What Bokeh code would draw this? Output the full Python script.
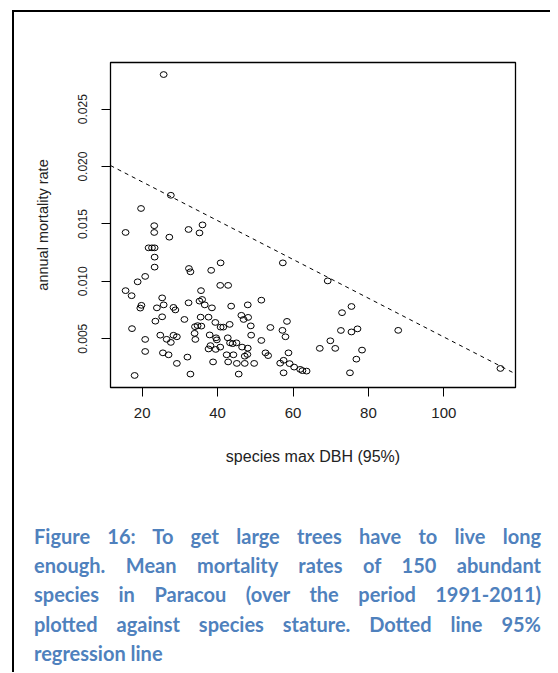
import numpy as np
from bokeh.plotting import figure
from bokeh.models import Range1d, FixedTicker, Div, ColumnDataSource, PrintfTickFormatter
from bokeh.layouts import column, row
from bokeh.embed import file_html
from bokeh.resources import INLINE

# species max DBH (95%), cm
dbh = [27.6, 19.7, 15.6, 23.2, 23.2, 27.2, 32.3, 35.2, 36.0, 21.7,
       22.6, 23.3, 23.3, 23.3, 20.8, 18.8, 32.4, 32.8, 38.3, 40.8,
       40.7, 42.8, 57.3, 69.2, 15.6, 17.2, 19.8, 19.5, 25.3, 25.7,
       23.9, 28.3, 28.8, 32.3, 35.6, 35.2, 35.9, 36.6, 38.5, 43.6,
       48.0, 51.6, 25.3, 23.5, 31.2, 35.5, 37.6, 39.4, 40.8, 41.5,
       43.2, 46.3, 48.1, 46.9, 48.8, 54.0, 57.2, 58.4, 58.0, 17.3,
       34.0, 34.7, 35.7, 33.9, 34.1, 37.9, 39.6, 39.8, 20.8, 24.8,
       26.5, 27.6, 28.3, 29.2, 48.9, 42.7, 43.3, 44.0, 45.0, 46.5,
       48.0, 51.6, 38.1, 37.6, 39.5, 40.7, 20.8, 25.5, 27.0, 32.0,
       42.4, 44.2, 47.2, 47.9, 52.7, 53.4, 58.8, 29.2, 38.8, 42.8,
       45.1, 47.2, 49.7, 56.6, 57.5, 59.1, 60.3, 61.9, 62.5, 63.6,
       57.5, 18.0, 32.8, 45.6, 67.1, 69.9, 71.2, 73.0, 75.5, 72.7,
       75.5, 77.1, 78.3, 76.8, 75.1, 87.9, 115.0, 25.7]

# annual mortality rate
mortality = [0.01750, 0.01635, 0.01426, 0.01485, 0.01426, 0.01385, 0.01452, 0.01422, 0.01492, 0.01292,
             0.01292, 0.01292, 0.01211, 0.01124, 0.01043, 0.00996, 0.01112, 0.01083, 0.01096, 0.01161,
             0.00965, 0.00965, 0.01161, 0.01004, 0.00919, 0.00875, 0.00791, 0.00767, 0.00856, 0.00795,
             0.00769, 0.00773, 0.00751, 0.00813, 0.00919, 0.00828, 0.00842, 0.00795, 0.00769, 0.00784,
             0.00795, 0.00836, 0.00691, 0.00653, 0.00668, 0.00688, 0.00688, 0.00642, 0.00601, 0.00601,
             0.00625, 0.00704, 0.00686, 0.00668, 0.00612, 0.00598, 0.00573, 0.00651, 0.00517, 0.00588,
             0.00605, 0.00614, 0.00610, 0.00547, 0.00494, 0.00533, 0.00508, 0.00490, 0.00494, 0.00531,
             0.00495, 0.00468, 0.00530, 0.00517, 0.00531, 0.00508, 0.00464, 0.00457, 0.00464, 0.00427,
             0.00418, 0.00485, 0.00440, 0.00411, 0.00407, 0.00427, 0.00389, 0.00377, 0.00360, 0.00340,
             0.00360, 0.00360, 0.00348, 0.00363, 0.00377, 0.00353, 0.00377, 0.00285, 0.00298, 0.00298,
             0.00285, 0.00285, 0.00285, 0.00287, 0.00312, 0.00283, 0.00253, 0.00233, 0.00222, 0.00218,
             0.00203, 0.00180, 0.00192, 0.00192, 0.00416, 0.00482, 0.00416, 0.00727, 0.00781, 0.00572,
             0.00559, 0.00586, 0.00401, 0.00322, 0.00203, 0.00573, 0.00241, 0.02802]

# 95% regression line
reg_intercept = 0.02205
reg_slope = -0.000169

x_ticks = [20, 40, 60, 80, 100]
y_ticks = [0.005, 0.010, 0.015, 0.020, 0.025]

x_label = "species max DBH (95%)"
y_label = "annual mortality rate"

caption_lines = [
    "Figure 16: To get large trees have to live long",
    "enough. Mean mortality rates of 150 abundant",
    "species in Paracou (over the period 1991-2011)",
    "plotted against species stature. Dotted line 95%",
    "regression line",
]

x_min, x_max = 11.6, 119.0
y_min, y_max = 0.00075, 0.02907

p = figure(width=536, height=475,
           x_range=Range1d(x_min, x_max), y_range=Range1d(y_min, y_max),
           output_backend="svg", toolbar_location=None,
           min_border_left=96, min_border_top=50, min_border_right=35, min_border_bottom=100)
p.xgrid.visible = False
p.ygrid.visible = False
p.background_fill_color = "white"
p.border_fill_color = "white"
p.outline_line_color = "black"
p.outline_line_width = 1.3

for ax in (p.xaxis, p.yaxis):
    ax.major_tick_in = 0
    ax.major_tick_out = 9
    ax.minor_tick_in = 0
    ax.minor_tick_out = 0
    ax.major_tick_line_color = "black"
    ax.axis_line_color = "black"
    ax.major_label_text_font = "Liberation Sans"
    ax.major_label_text_color = "#222222"
    ax.axis_label_text_font = "Liberation Sans"
    ax.axis_label_text_color = "#222222"
    ax.axis_label_text_font_style = "normal"

p.xaxis.ticker = FixedTicker(ticks=x_ticks)
p.xaxis.major_label_text_font_size = "15px"
p.xaxis.major_label_standoff = 11
p.xaxis.axis_label = x_label
p.xaxis.axis_label_text_font_size = "16px"
p.xaxis.axis_label_standoff = 27

p.yaxis.ticker = FixedTicker(ticks=y_ticks)
p.yaxis.formatter = PrintfTickFormatter(format="%.3f")
p.yaxis.major_label_orientation = "vertical"
p.yaxis.major_label_text_font_size = "12px"
p.yaxis.major_label_standoff = 14
p.yaxis.axis_label = y_label
p.yaxis.axis_label_text_font_size = "14.5px"
p.yaxis.axis_label_standoff = 25

line_x = np.array([x_min, x_max])
line_y = reg_intercept + reg_slope * line_x
p.line(line_x, line_y, line_color="black", line_width=1, line_dash="4 4")

src = ColumnDataSource(dict(x=dbh, y=mortality))
p.ellipse(x="x", y="y", width=6.8, height=5.8, width_units="screen", height_units="screen",
          source=src, fill_color=None, line_color="black", line_width=1)

inner = "".join(
    f'<div style="text-align:justify;text-align-last:{"justify" if i < len(caption_lines) - 1 else "left"};">{t}</div>'
    for i, t in enumerate(caption_lines)
)
html = ('<div style="padding:34.6px 0 0 20px;">'
        '<div style="width:507px;font-family:Lato;font-weight:bold;font-size:20px;'
        'line-height:29.4px;color:#4F81BD;">' + inner + '</div></div>')
cap = Div(text=html, width=536, height=178, margin=(0, 0, 0, 0))

top_line = Div(text="", width=538, height=2, margin=(10, 0, 0, 12),
               styles={"background-color": "black"})
left_line = Div(text="", width=2, height=660, margin=(0, 0, 0, 12),
                styles={"background-color": "black"})

layout = column(top_line, row(left_line, column(p, cap, spacing=0), spacing=0), spacing=0)

open("out.html", "w").write(file_html(layout, INLINE))
